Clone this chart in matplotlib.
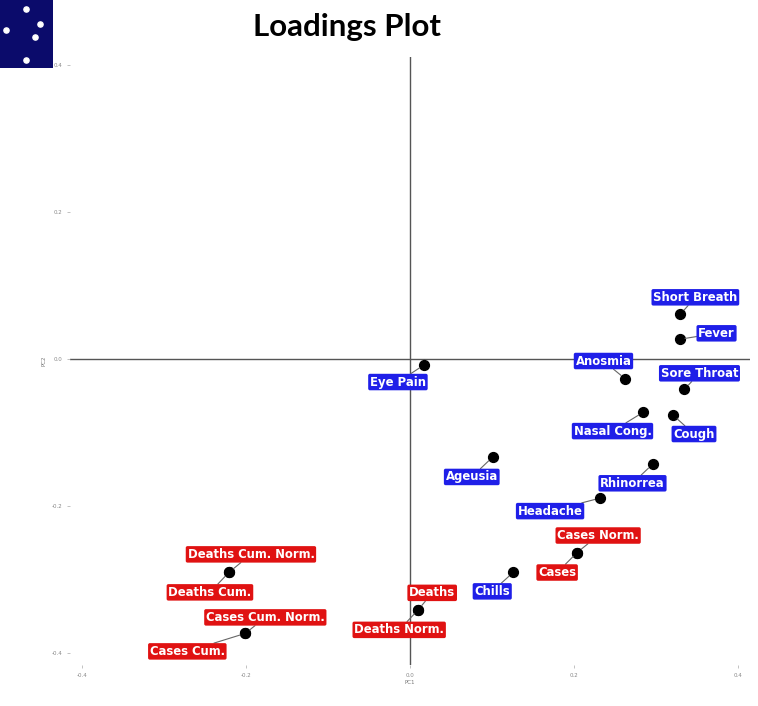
import matplotlib
matplotlib.use("Agg")
import matplotlib.pyplot as plt

# Loadings (PC1, PC2)
labels = ["Short Breath", "Fever", "Anosmia", "Sore Throat", "Nasal Cong.", "Cough",
          "Eye Pain", "Ageusia", "Rhinorrea", "Headache", "Cases Norm.", "Cases",
          "Chills", "Deaths", "Deaths Norm.", "Deaths Cum. Norm.", "Deaths Cum.",
          "Cases Cum. Norm.", "Cases Cum."]
pc1 = [0.330, 0.329, 0.263, 0.335, 0.285, 0.321,
       0.017, 0.101, 0.296, 0.232, 0.204, 0.204,
       0.126, 0.010, 0.010, -0.221, -0.221,
       -0.201, -0.201]
pc2 = [0.061, 0.027, -0.027, -0.041, -0.072, -0.076,
       -0.008, -0.133, -0.143, -0.189, -0.263, -0.263,
       -0.290, -0.341, -0.341, -0.290, -0.290,
       -0.373, -0.373]
groups = ["sym"] * 10 + ["cnt", "cnt", "sym"] + ["cnt"] * 6

ticks = [-0.4, -0.2, 0.0, 0.2, 0.4]
tick_labels = ["-0.4", "-0.2", "0.0", "0.2", "0.4"]

# label offsets in pixels (repel-style placement)
label_offsets = [(15, 17), (37, 6), (-22, 18), (15, 16), (-31, -19), (21, -19),
                 (-26, -17), (-21, -20), (-20, -19), (-50, -13), (21, 17), (-20, -20),
                 (-21, -19), (14, 17), (-19, -20), (22, 18), (-19, -20),
                 (20, 16), (-58, -18)]
group_colors = {"sym": "#1f1fe8", "cnt": "#e01212"}

# decorative logo dots (axes fraction)
icon_x = [0.49, 0.75, 0.11, 0.66, 0.49]
icon_y = [0.87, 0.65, 0.56, 0.46, 0.12]

fig = plt.figure(figsize=(7.58, 7.06), dpi=100)
ax = fig.add_axes([70 / 758, 41 / 706, 680 / 758, 608 / 706])
ax.set_xlim(-0.415, 0.415)
ax.set_ylim(-0.416, 0.411)
for s in ax.spines.values():
    s.set_visible(False)
ax.axhline(0, color="#555555", lw=1, zorder=1)
ax.axvline(0, color="#555555", lw=1, zorder=1)

ax.scatter(pc1, pc2, s=50, color="black", zorder=3)
for i, lab in enumerate(labels):
    ax.annotate(lab, (pc1[i], pc2[i]), xytext=label_offsets[i], textcoords="offset pixels",
                ha="center", va="center", color="white", fontsize=8.4, fontweight="bold",
                family="DejaVu Sans", zorder=4,
                bbox=dict(boxstyle="round,pad=0.15,rounding_size=0.15",
                          fc=group_colors[groups[i]], ec="none"),
                arrowprops=dict(arrowstyle="-", color="#666666", lw=0.8,
                                shrinkA=0, shrinkB=4))

ax.set_xticks(ticks)
ax.set_xticklabels(tick_labels)
ax.set_yticks(ticks)
ax.set_yticklabels(tick_labels)
ax.tick_params(length=2, width=0.5, colors="#aaaaaa", labelsize=4, labelcolor="#888888")
ax.set_xlabel("PC1", fontsize=4, color="#777777", labelpad=2)
ax.set_ylabel("PC2", fontsize=4, color="#777777", labelpad=4)

fig.text(347 / 758, 1 - 27 / 706, "Loadings Plot", ha="center", va="center",
         fontsize=22.5, fontweight="bold", family="Lato")

icon = fig.add_axes([0, 1 - 68 / 706, 53 / 758, 68 / 706])
icon.set_facecolor("#0b0b6b")
icon.scatter(icon_x, icon_y, s=14, color="white")
icon.set_xlim(0, 1)
icon.set_ylim(0, 1)
icon.set_xticks([])
icon.set_yticks([])
for s in icon.spines.values():
    s.set_visible(False)

fig.savefig("out.png", dpi=100)
